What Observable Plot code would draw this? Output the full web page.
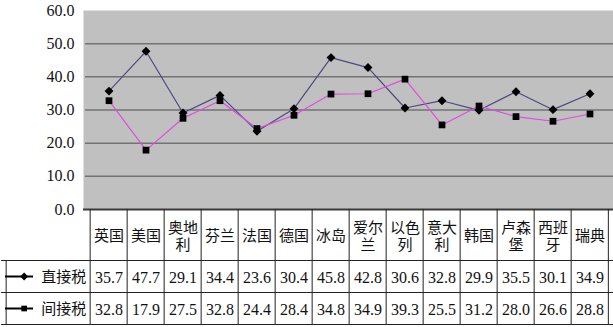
<!DOCTYPE html>
<html>
<head>
<meta charset="utf-8">
<script src="https://cdn.jsdelivr.net/npm/d3@7"></script>
<script src="https://cdn.jsdelivr.net/npm/@observablehq/plot@0.6"></script>
<style>
  html, body { margin: 0; padding: 0; background: #ffffff; }
  #chart svg { display: block; }
</style>
</head>
<body>
<div id="chart"></div>
<script>
// Direct vs. indirect tax share by country, with a data table under the chart
const countries = ["英国", "美国", "奥地利", "芬兰", "法国", "德国", "冰岛", "爱尔兰", "以色列", "意大利", "韩国", "卢森堡", "西班牙", "瑞典"];
const headerLabels = ["英国", "美国", "奥地\n利", "芬兰", "法国", "德国", "冰岛", "爱尔\n兰", "以色\n列", "意大\n利", "韩国", "卢森\n堡", "西班\n牙", "瑞典"];
const seriesNames = ["直接税", "间接税"];
const directTax = [35.7, 47.7, 29.1, 34.4, 23.6, 30.4, 45.8, 42.8, 30.6, 32.8, 29.9, 35.5, 30.1, 34.9];
const indirectTax = [32.8, 17.9, 27.5, 32.8, 24.4, 28.4, 34.8, 34.9, 39.3, 25.5, 31.2, 28.0, 26.6, 28.8];
const yTicks = [0, 10, 20, 30, 40, 50, 60];
const gridValues = [10, 20, 30, 40, 50];

// layout
const W = 613, H = 327;
const M = {top: 10, right: 0, bottom: 118, left: 85};
const bw = (W - M.left - M.right) / countries.length;  // column width
const headerH = 51, rowH = 32;
const firstCenter = M.left + bw / 2;
const dxTo = (px) => px - firstCenter;                 // offset from the first column centre

const fontStack = "Liberation Serif, DejaVu Serif, Noto Sans CJK SC, serif";
const lineColors = ["#4a4a80", "#e04ce0"];
const tableStroke = "#222";

const seriesValues = [directTax, indirectTax];
const points = seriesNames.flatMap((s, k) =>
  countries.map((c, i) => ({series: s, country: c, value: seriesValues[k][i]})));
const direct = points.filter(d => d.series === seriesNames[0]);
const indirect = points.filter(d => d.series === seriesNames[1]);

const rowOffset = (k) => headerH + rowH * k + rowH / 2 + 1;  // vertical centre of data row k

const plot = Plot.plot({
  width: W,
  height: H,
  marginTop: M.top,
  marginRight: M.right,
  marginBottom: M.bottom,
  marginLeft: M.left,
  style: {background: "#ffffff", overflow: "visible", fontFamily: fontStack},
  x: {type: "band", domain: countries, padding: 0, axis: null},
  y: {domain: [0, 60], axis: null},
  color: {domain: seriesNames, range: lineColors},
  marks: [
    // plot area
    Plot.frame({fill: "#c0c0c0", stroke: null, insetLeft: -2}),
    Plot.ruleY(gridValues, {stroke: "#737373", strokeWidth: 1.5}),
    Plot.axisY(yTicks, {
      tickSize: 0, tickPadding: 11, label: null,
      tickFormat: d3.format(".1f"), fontSize: 16, fill: "#111"
    }),

    // series lines and markers
    Plot.line(points, {x: "country", y: "value", z: "series", stroke: "series", strokeWidth: 1.2}),
    Plot.dot(direct, {x: "country", y: "value", symbol: "diamond2", r: 4, fill: "black", stroke: null}),
    Plot.dot(indirect, {x: "country", y: "value", symbol: "square", r: 3.8, fill: "black", stroke: null}),

    // bottom edge of the plot / top of the table
    Plot.ruleY([0], {stroke: "#3a3a3a", strokeWidth: 2, insetLeft: -2}),

    // table column separators
    Plot.ruleX(countries, {x: d => d, dx: -bw / 2, y1: 0, y2: 0, insetBottom: -(headerH + 2 * rowH), stroke: tableStroke}),
    Plot.ruleX(countries.slice(-1), {x: d => d, dx: bw / 2 - 0.5, y1: 0, y2: 0, insetBottom: -(headerH + 2 * rowH), stroke: tableStroke}),
    // left border of the row-header column
    Plot.ruleX(countries.slice(0, 1), {x: d => d, dx: dxTo(1), y1: 0, y2: 0, insetTop: headerH, insetBottom: -(headerH + 2 * rowH), stroke: tableStroke}),
    // table row separators
    Plot.ruleY([0], {dy: headerH, insetLeft: -(M.left - 1), stroke: tableStroke}),
    Plot.ruleY([0], {dy: headerH + rowH, insetLeft: -(M.left - 1), stroke: tableStroke}),
    Plot.ruleY([0], {dy: headerH + 2 * rowH, insetLeft: -(M.left - 1), stroke: tableStroke}),

    // header cells
    Plot.text(countries, {
      x: d => d, y: 0, dy: headerH / 2 + 1, text: (d, i) => headerLabels[i],
      fontSize: 15, fill: "#111", lineHeight: 1.13, lineAnchor: "middle"
    }),

    // data cells
    ...seriesValues.map((vals, k) => Plot.text(countries, {
      x: d => d, y: 0, dy: rowOffset(k), text: (d, i) => vals[i].toFixed(1),
      fontSize: 16, fill: "#111", lineAnchor: "middle"
    })),

    // row headers with legend keys
    ...seriesNames.map((s, k) => Plot.text([s], {
      x: () => countries[0], y: 0, dx: dxTo(36), dy: rowOffset(k),
      text: d => d, textAnchor: "start", fontSize: 15, fill: "#111", lineAnchor: "middle"
    })),
    ...seriesNames.map((s, k) => Plot.ruleY([0], {
      dy: rowOffset(k) - 1, insetLeft: -(M.left - 5), insetRight: W - 33,
      stroke: "black", strokeWidth: 2
    })),
    Plot.dot([seriesNames[0]], {x: () => countries[0], y: 0, dx: dxTo(19), dy: rowOffset(0) - 1, symbol: "diamond2", r: 3.5, fill: "black", stroke: null}),
    Plot.dot([seriesNames[1]], {x: () => countries[0], y: 0, dx: dxTo(19), dy: rowOffset(1) - 1, symbol: "square", r: 3.2, fill: "black", stroke: null})
  ]
});

// serif type for every label
d3.select(plot).attr("font-family", fontStack);
d3.select(plot).selectAll("g, text").attr("font-family", null).style("font-family", fontStack);

document.getElementById("chart").appendChild(plot);
</script>
</body>
</html>
